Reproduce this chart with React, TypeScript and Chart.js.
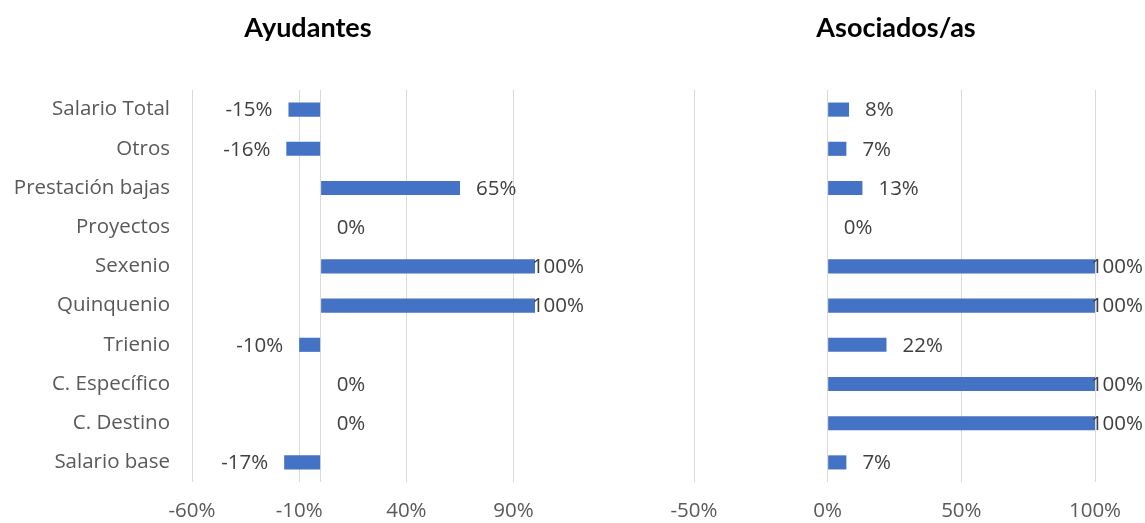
import React, { useEffect, useRef } from "react";
import { Chart, registerables } from "chart.js";

Chart.register(...registerables);

const categories = [
  "Salario Total",
  "Otros",
  "Prestación bajas",
  "Proyectos",
  "Sexenio",
  "Quinquenio",
  "Trienio",
  "C. Específico",
  "C. Destino",
  "Salario base",
];

const ayudantesValues = [-15, -16, 65, 0, 100, 100, -10, 0, 0, -17];
const asociadosValues = [8, 7, 13, 0, 100, 100, 22, 100, 100, 7];

const ayudantesTicks = [-60, -10, 0, 40, 90];
const asociadosTicks = [-50, 0, 50, 100];

const FONT = "'Open Sans', Lato, sans-serif";
const TITLE_FONT = "Lato, 'Open Sans', sans-serif";
const FONT_SIZE = 20.5;
const BAR_COLOR = "#4472C4";
const GRID_COLOR = "#d9d9d9";
const TICK_COLOR = "#595959";
const LABEL_COLOR = "#404040";

const labelPlugin = {
  id: "barLabels",
  afterDatasetsDraw(chart: any) {
    const ctx = chart.ctx;
    const meta = chart.getDatasetMeta(0);
    const data = chart.data.datasets[0].data as number[];
    ctx.save();
    ctx.font = `${FONT_SIZE}px ${FONT}`;
    ctx.fillStyle = LABEL_COLOR;
    ctx.textBaseline = "middle";
    meta.data.forEach((el: any, i: number) => {
      const v = data[i];
      const text = `${v}%`;
      const w = ctx.measureText(text).width;
      if (v >= 0) {
        let x = el.x + 16;
        const maxX = chart.width - 2;
        if (x + w > maxX) x = maxX - w;
        ctx.textAlign = "left";
        ctx.fillText(text, x, el.y + 1);
      } else {
        ctx.textAlign = "right";
        ctx.fillText(text, el.x - 16, el.y + 1);
      }
    });
    ctx.restore();
  },
};

const titlePlugin = {
  id: "sideTitle",
  afterDraw(chart: any) {
    const opts = chart.options.plugins.sideTitle;
    if (!opts) return;
    const ctx = chart.ctx;
    ctx.save();
    ctx.font = `bold 27px ${TITLE_FONT}`;
    ctx.fillStyle = "#000000";
    ctx.textAlign = "center";
    ctx.textBaseline = "alphabetic";
    ctx.fillText(opts.text, opts.x, opts.y);
    ctx.restore();
  },
};

function makeConfig(
  values: number[],
  ticks: number[],
  min: number,
  max: number,
  title: string,
  titleX: number,
  showY: boolean,
  padding: { left: number; right: number }
): any {
  return {
    type: "bar",
    data: {
      labels: categories,
      datasets: [
        {
          data: values,
          backgroundColor: BAR_COLOR,
          borderWidth: 0,
          categoryPercentage: 1,
          barPercentage: 0.36,
        },
      ],
    },
    options: {
      indexAxis: "y",
      animation: false,
      responsive: true,
      maintainAspectRatio: false,
      layout: { padding: { top: 90, left: padding.left, right: padding.right, bottom: 0 } },
      plugins: {
        legend: { display: false },
        tooltip: { enabled: false },
        title: { display: false },
        sideTitle: { text: title, x: titleX, y: 37 },
      },
      scales: {
        x: {
          type: "linear",
          min,
          max,
          afterBuildTicks(scale: any) {
            scale.ticks = ticks.map((v) => ({ value: v }));
          },
          afterFit(scale: any) {
            scale.height = 41;
          },
          grid: { color: GRID_COLOR, lineWidth: 1, drawTicks: false },
          border: { display: false },
          ticks: {
            padding: 17,
            color: TICK_COLOR,
            font: { family: FONT, size: FONT_SIZE },
            autoSkip: false,
            maxRotation: 0,
            callback: (v: number) => (showY && v === 0 ? "" : `${v}%`),
          },
        },
        y: {
          display: showY,
          afterFit(scale: any) {
            if (showY) scale.width = 192;
          },
          grid: { display: false, drawTicks: false },
          border: { display: false },
          ticks: {
            padding: 22,
            color: TICK_COLOR,
            font: { family: FONT, size: FONT_SIZE },
            autoSkip: false,
          },
        },
      },
    },
    plugins: [labelPlugin, titlePlugin],
  };
}

function ChartBox(props: { left: number; width: number; config: () => any }) {
  const ref = useRef<HTMLCanvasElement | null>(null);
  useEffect(() => {
    if (!ref.current) return;
    const chart = new Chart(ref.current, props.config());
    return () => chart.destroy();
  }, []);
  return (
    <div style={{ position: "absolute", left: props.left, top: 0, width: props.width, height: 523 }}>
      <canvas ref={ref} />
    </div>
  );
}

export default function App() {
  return (
    <div style={{ position: "fixed", left: 0, top: 0, width: 1145, height: 523, background: "#fff" }}>
      <ChartBox
        left={0}
        width={586}
        config={() =>
          makeConfig(ayudantesValues, ayudantesTicks, -60, 100, "Ayudantes", 308, true, { left: 0, right: 51 })
        }
      />
      <ChartBox
        left={590}
        width={555}
        config={() =>
          makeConfig(asociadosValues, asociadosTicks, -50, 100, "Asociados/as", 306, false, { left: 104, right: 50 })
        }
      />
    </div>
  );
}
